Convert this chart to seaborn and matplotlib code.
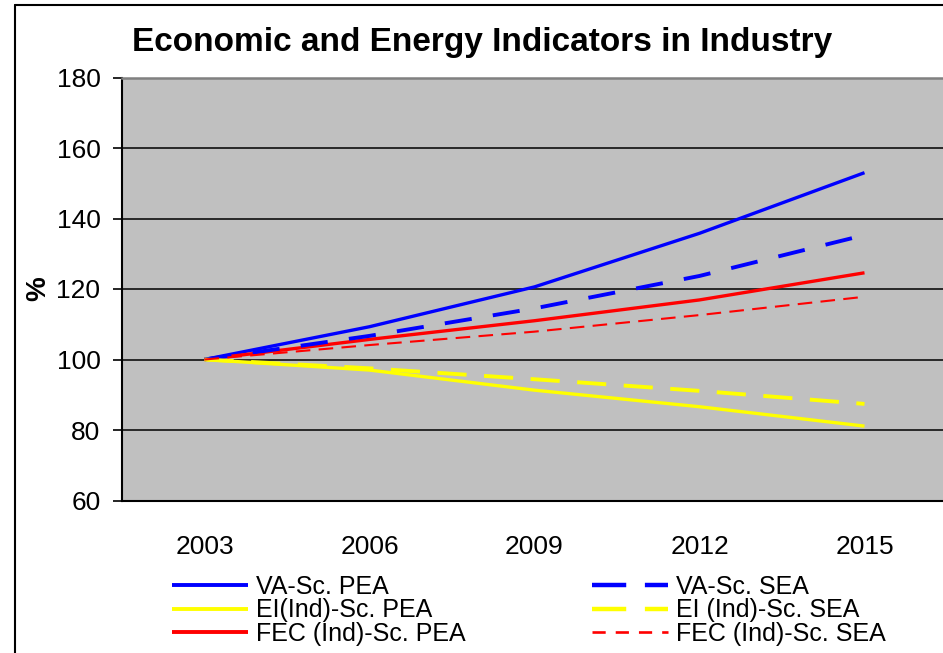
import numpy as np
import pandas as pd
import matplotlib
matplotlib.use("Agg")
import matplotlib.pyplot as plt
from matplotlib.lines import Line2D
import seaborn as sns

# ---- data ----
years = ["2003", "2006", "2009", "2012", "2015"]
va_pea = [100, 109.3, 120.6, 135.8, 153.0]
va_sea = [100, 106.7, 114.5, 123.7, 135.3]
ei_pea = [100, 97.0, 91.3, 86.6, 81.1]
ei_sea = [100, 97.5, 94.4, 91.1, 87.4]
fec_pea = [100, 105.7, 111.0, 116.9, 124.6]
fec_sea = [100, 104.1, 107.9, 112.6, 117.8]
series_names = ["VA-Sc. PEA", "EI(Ind)-Sc. PEA", "FEC (Ind)-Sc. PEA",
                "VA-Sc. SEA", "EI (Ind)-Sc. SEA", "FEC (Ind)-Sc. SEA"]
series_vals = [va_pea, ei_pea, fec_pea, va_sea, ei_sea, fec_sea]
yticks = [60, 80, 100, 120, 140, 160, 180]

# styles
colors = ["#0000FF", "#FFFF00", "#FF0000", "#0000FF", "#FFFF00", "#FF0000"]
widths = [2.4, 2.4, 2.4, 2.8, 2.8, 1.5]
dashes = [None, None, None, (7, 5.5), (7.5, 4.5), (7, 4)]
leg_dashes = [None, None, None, (7.7, 4.2), (7.7, 4.2), (5, 3.8)]

rows = []
for name, vals in zip(series_names, series_vals):
    for i, v in enumerate(vals):
        rows.append({"series": name, "pos": i, "year": years[i], "value": v})
df = pd.DataFrame(rows)

sns.set_style("white")
plt.rcParams["font.family"] = ["Liberation Sans", "DejaVu Sans"]
plt.rcParams["text.color"] = "black"
plt.rcParams["xtick.color"] = "black"
plt.rcParams["ytick.color"] = "black"
plt.rcParams["axes.labelcolor"] = "black"

W, H = 943, 653
fig = plt.figure(figsize=(W / 100, H / 100), dpi=100)
ax = fig.add_axes([122 / W, 1 - 500.5 / H, 825 / W, 423 / H])
ax.set_facecolor("#C0C0C0")

handles = []
for name, c, lw, d, ld in zip(series_names, colors, widths, dashes, leg_dashes):
    sub = df[df["series"] == name]
    sns.lineplot(data=sub, x="pos", y="value", color=c, lw=lw, ax=ax,
                 legend=False, sort=False)
    ln = ax.lines[-1]
    if d is not None:
        ln.set_dashes(d)
    ln.set_dash_capstyle("butt")
    ln.set_solid_capstyle("butt")
    h = Line2D([], [], color=c, lw=lw + 0.4)
    h.set_dash_capstyle("butt")
    h.set_solid_capstyle("butt")
    if ld is not None:
        h.set_dashes(ld)
    handles.append(h)

ax.set_xlim(-0.5, len(years) - 0.5)
ax.set_ylim(60, 180)
ax.set_yticks(yticks)
ax.set_xticks(np.arange(len(years) + 1) - 0.5)
ax.set_xticklabels([])
ax.set_xticks(np.arange(len(years)), labels=years, minor=True)
ax.tick_params(axis="x", which="major", direction="out", length=8, width=1.2,
               color="black")
ax.tick_params(axis="x", which="minor", length=0, pad=25, labelsize=19)
ax.tick_params(axis="y", direction="out", length=6.5, width=1.2, pad=9,
               labelsize=19, left=True)
ax.yaxis.grid(True, color="black", lw=1.1)
ax.xaxis.grid(False)
ax.set_axisbelow(True)
ax.set_xlabel("")
ax.set_ylabel("%", fontsize=20, fontweight="bold")
ax.yaxis.set_label_coords(-0.086, 0.5)

for s in ["left", "bottom"]:
    ax.spines[s].set_color("black")
    ax.spines[s].set_linewidth(1.5)
ax.spines["top"].set_color("#808080")
ax.spines["top"].set_linewidth(1.8)
ax.spines["right"].set_visible(False)

fig.text(482.5 / W, 1 - 42 / H, "Economic and Energy Indicators in Industry",
         ha="center", va="center", fontsize=24, fontweight="bold")

leg_kw = dict(loc="upper left", frameon=False, borderpad=0, borderaxespad=0,
              handlelength=3.05, handletextpad=0.3, labelspacing=-0.02,
              fontsize=18)
fig.legend(handles[:3], series_names[:3], bbox_to_anchor=(172 / W, 1 - 575 / H),
           **leg_kw)
fig.legend(handles[3:], series_names[3:], bbox_to_anchor=(592 / W, 1 - 575 / H),
           **leg_kw)

# outer frame of the chart area
fig.add_artist(Line2D([15 / W, 15 / W], [0, 1 - 5 / H], color="black", lw=1.5,
                      transform=fig.transFigure))
fig.add_artist(Line2D([15 / W, 1], [1 - 5 / H, 1 - 5 / H], color="black", lw=1.5,
                      transform=fig.transFigure))

fig.savefig("out.png", dpi=100)
